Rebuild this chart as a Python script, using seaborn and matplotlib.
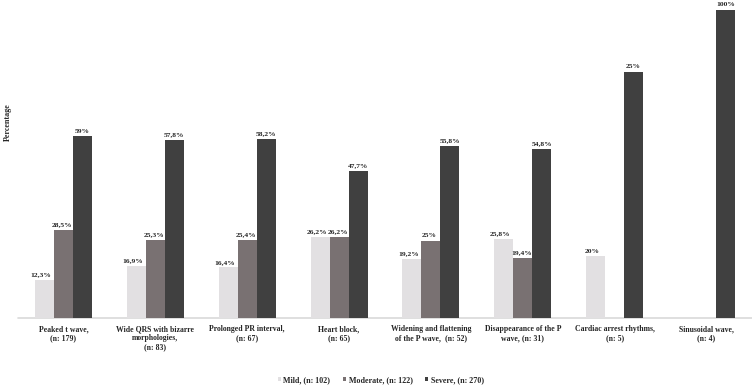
import numpy as np
import pandas as pd
import matplotlib
matplotlib.use("Agg")
import matplotlib.pyplot as plt
import seaborn as sns

categories = [
    "Peaked t wave,\n(n: 179)",
    "Wide QRS with bizarre\nmorphologies,\n(n: 83)",
    "Prolonged PR interval,\n(n: 67)",
    "Heart block,\n(n: 65)",
    "Widening and flattening\nof the P wave,  (n: 52)",
    "Disappearance of the P\nwave, (n: 31)",
    "Cardiac arrest rhythms,\n(n: 5)",
    "Sinusoidal wave,\n(n: 4)",
]
series = ["Mild, (n: 102)", "Moderate, (n: 122)", "Severe, (n: 270)"]

mild = [12.3, 16.9, 16.4, 26.2, 19.2, 25.8, 20, None]
moderate = [28.5, 25.3, 25.4, 26.2, 25, 19.4, None, None]
severe = [59, 57.8, 58.2, 47.7, 55.8, 54.8, 80, 100]

mild_labels = ["12,3%", "16,9%", "16,4%", "26,2%", "19,2%", "25,8%", "20%", ""]
moderate_labels = ["28,5%", "25,3%", "25,4%", "26,2%", "25%", "19,4%", "", ""]
severe_labels = ["59%", "57,8%", "58,2%", "47,7%", "55,8%", "54,8%", "25%", "100%"]

colors = ["#e2e0e2", "#797172", "#404040"]

rows = []
for s, vals in zip(series, [mild, moderate, severe]):
    for c, v in zip(categories, vals):
        if v is not None:
            rows.append({"category": c, "series": s, "value": v})
df = pd.DataFrame(rows)
labels_by_series = dict(zip(series, [mild_labels, moderate_labels, severe_labels]))
label_dx = dict(zip(series, [-2.5, -1.0, 0.0]))

sns.set_style("white")
plt.rcParams["font.family"] = ["Liberation Serif", "DejaVu Serif"]
plt.rcParams["font.weight"] = "bold"

fig = plt.figure(figsize=(7.52, 3.91), dpi=100)
ax = fig.add_axes([17.5 / 752, 73 / 391, 735 / 752, 308 / 391])

sns.barplot(data=df, x="category", y="value", hue="series",
            order=categories, hue_order=series, palette=colors,
            width=0.62, linewidth=0, saturation=1, errorbar=None, ax=ax,
            legend=True)

ax.set_xlim(-0.5, 7.5)
ax.set_ylim(0, 100)
ax.set_xlabel("")
ax.set_ylabel("")
ax.set_yticks([])
for sp in ["top", "right", "left", "bottom"]:
    ax.spines[sp].set_visible(False)
ax.axhline(0, color="#d9d9d9", lw=1.2, clip_on=False, zorder=0)

ax.tick_params(axis="x", length=0, pad=5)
for t in ax.get_xticklabels():
    t.set_fontsize(5.6)
    t.set_fontweight("bold")
    t.set_linespacing(1.15)
    t.set_verticalalignment("top")

for s, cont in zip(series, ax.containers):
    labs = labels_by_series[s]
    for bar in cont:
        h = bar.get_height()
        if not np.isfinite(h):
            continue
        idx = int(round(bar.get_x() + bar.get_width() / 2))
        ax.annotate(labs[idx], (bar.get_x() + bar.get_width() / 2, h),
                    xytext=(label_dx[s], 2), textcoords="offset points",
                    ha="center", va="bottom", fontsize=5.4,
                    fontweight="bold", clip_on=False, annotation_clip=False)

fig.text(8 / 752, 1 - 122 / 391, "Percentage", rotation=90, ha="center",
         va="center", fontsize=5.8, fontweight="bold")

handles, labels = ax.get_legend_handles_labels()
ax.legend_.remove()
fig.legend(handles, labels, loc="center", bbox_to_anchor=(381 / 752, 11 / 391),
           ncol=3, frameon=False, handlelength=0.35,
           handleheight=0.35, handletextpad=0.3, columnspacing=1.6,
           prop={"weight": "bold", "size": 5.8})

fig.savefig("out.png", dpi=100)
